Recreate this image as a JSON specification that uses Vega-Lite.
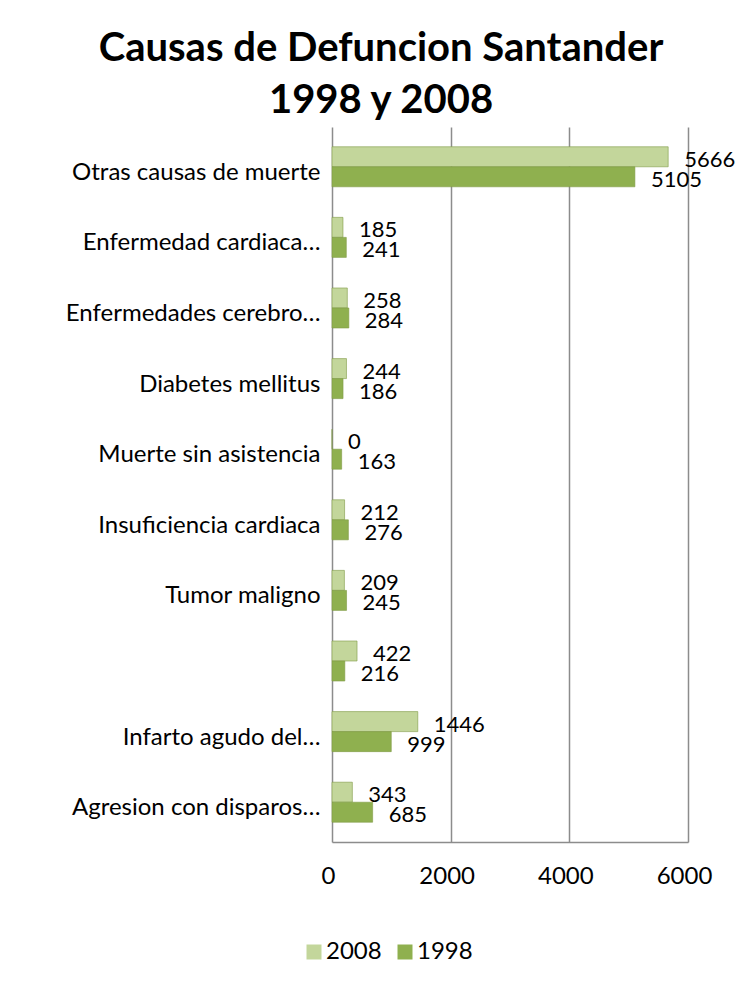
{
  "$schema": "https://vega.github.io/schema/vega-lite/v6.json",
  "autosize": "none",
  "width": 356,
  "height": 715,
  "padding": {"left": 332, "top": 127, "right": 59, "bottom": 140},
  "background": "white",
  "config": {
    "font": "Lato",
    "view": {"stroke": null}
  },
  "title": {
    "text": ["Causas de Defuncion Santander", "1998 y 2008"],
    "fontSize": 40,
    "fontWeight": "bold",
    "font": "Lato",
    "color": "#000000",
    "anchor": "middle",
    "frame": "group",
    "dx": -129,
    "offset": 6,
    "lineHeight": 52
  },
  "data": {
    "values": [
      {"causa": "Otras causas de muerte", "anio": "2008", "valor": 5666},
      {"causa": "Otras causas de muerte", "anio": "1998", "valor": 5105},
      {"causa": "Enfermedad cardiaca…", "anio": "2008", "valor": 185},
      {"causa": "Enfermedad cardiaca…", "anio": "1998", "valor": 241},
      {"causa": "Enfermedades cerebro…", "anio": "2008", "valor": 258},
      {"causa": "Enfermedades cerebro…", "anio": "1998", "valor": 284},
      {"causa": "Diabetes mellitus", "anio": "2008", "valor": 244},
      {"causa": "Diabetes mellitus", "anio": "1998", "valor": 186},
      {"causa": "Muerte sin asistencia", "anio": "2008", "valor": 0},
      {"causa": "Muerte sin asistencia", "anio": "1998", "valor": 163},
      {"causa": "Insuficiencia cardiaca", "anio": "2008", "valor": 212},
      {"causa": "Insuficiencia cardiaca", "anio": "1998", "valor": 276},
      {"causa": "Tumor maligno", "anio": "2008", "valor": 209},
      {"causa": "Tumor maligno", "anio": "1998", "valor": 245},
      {"causa": " ", "anio": "2008", "valor": 422},
      {"causa": " ", "anio": "1998", "valor": 216},
      {"causa": "Infarto agudo del…", "anio": "2008", "valor": 1446},
      {"causa": "Infarto agudo del…", "anio": "1998", "valor": 999},
      {"causa": "Agresion con disparos…", "anio": "2008", "valor": 343},
      {"causa": "Agresion con disparos…", "anio": "1998", "valor": 685}
    ]
  },
  "encoding": {
    "y": {
      "field": "causa",
      "type": "nominal",
      "sort": null,
      "title": null,
      "scale": {"paddingInner": 0.433, "paddingOuter": 0.28},
      "axis": {
        "domain": false,
        "ticks": false,
        "labelFontSize": 24,
        "labelColor": "#000000",
        "labelPadding": 12,
        "labelLimit": 330,
        "labelOffset": 6
      }
    },
    "yOffset": {
      "field": "anio",
      "type": "nominal",
      "sort": ["2008", "1998"]
    },
    "x": {
      "field": "valor",
      "type": "quantitative",
      "scale": {"domain": [0, 6000]},
      "title": null,
      "axis": {
        "values": [0, 2000, 4000, 6000],
        "format": "d",
        "grid": true,
        "gridColor": "#8c8c8c",
        "gridWidth": 1.5,
        "domain": true,
        "domainColor": "#8c8c8c",
        "domainWidth": 1.5,
        "ticks": false,
        "labelFlush": false,
        "labelFontSize": 24,
        "labelColor": "#000000",
        "labelPadding": 22,
        "labelOffset": -4
      }
    }
  },
  "layer": [
    {
      "mark": {"type": "bar", "stroke": "#7f9a45", "strokeWidth": 0.6},
      "encoding": {
        "color": {
          "field": "anio",
          "type": "nominal",
          "sort": ["2008", "1998"],
          "scale": {"domain": ["2008", "1998"], "range": ["#c3d69b", "#8fb04f"]},
          "legend": {
            "title": null,
            "orient": "none",
            "direction": "horizontal",
            "legendX": -30,
            "legendY": 813,
            "symbolType": "square",
            "symbolSize": 225,
            "symbolStrokeWidth": 0,
            "labelFontSize": 24,
            "labelColor": "#000000",
            "labelOffset": 0,
            "columnPadding": 11
          }
        }
      }
    },
    {
      "mark": {"type": "text", "align": "left", "baseline": "middle", "dx": 16, "dy": 3, "fontSize": 22, "color": "#000000"},
      "encoding": {
        "text": {"field": "valor", "type": "quantitative"}
      }
    }
  ]
}
